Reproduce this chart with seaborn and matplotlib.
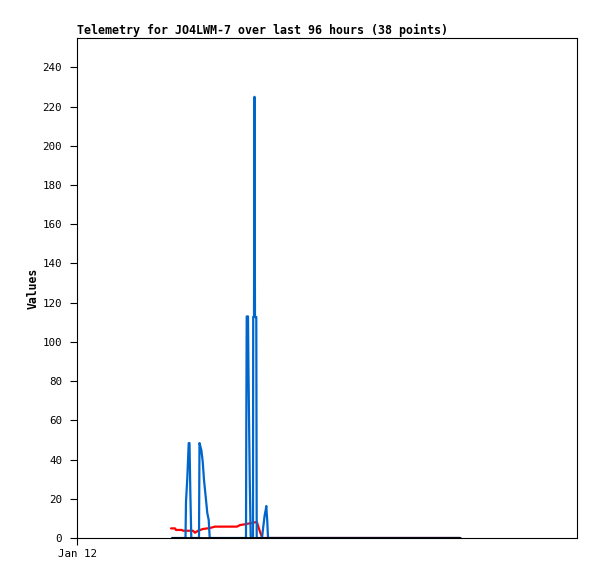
import matplotlib
matplotlib.use("Agg")
import matplotlib.pyplot as plt
import seaborn as sns
import pandas as pd

# hours since Jan 12 00:00
blue_x = [22.8, 26.04, 26.16, 26.47, 26.81, 27.0, 27.19, 27.43, 29.28, 29.4, 29.83, 30.17,
          30.48, 30.89, 31.27, 31.61, 31.85, 40.56, 40.63, 40.73, 41.04, 41.16, 41.47, 41.69,
          42.24, 42.29, 42.48, 42.6, 42.72, 43.03, 43.13,
          44.4, 44.71, 45.05, 45.29, 45.43, 45.67, 45.84, 91.92]
blue_y = [0, 0, 18.5, 30.5, 48.4, 48.4, 24.5, 0, 0, 48.4, 45, 39,
          29.6, 21, 12.7, 9.2, 0, 0, 56.9, 113, 113, 84, 28, 0,
          0, 112.7, 112.7, 225, 112.7, 112.7, 0,
          0, 5.8, 11.7, 14.3, 16.3, 8.3, 0, 0]

red_x = [22.56, 23.52, 23.76, 25.2, 25.44, 27.84, 28.32, 29.04, 30.24, 31.92, 33.12, 38.4,
         39.12, 40.32, 42.72, 43.2, 43.51, 43.92, 44.33, 44.52, 91.92]
red_y = [4.9, 4.9, 4.1, 4.1, 3.7, 3.7, 2.7, 3.7, 4.6, 5.1, 5.8, 5.8,
         6.6, 7.0, 8.0, 8.0, 5.8, 3.2, 0.8, 0, 0]

black_x = [22.8, 45.0, 70.0, 91.92]
black_y = [0, 0, 0, 0]

x_max = 120
y_max = 255
y_ticks = list(range(0, 241, 20))
x_tick_labels = ["Jan 12"]

sns.set_style("white")
mono = ["DejaVu Sans Mono"]
plt.rcParams["font.family"] = mono

fig = plt.figure(figsize=(5.97, 5.79), dpi=100)
ax = fig.add_axes([77/597, 41/579, 500/597, 500/579])

sns.lineplot(x=red_x, y=red_y, color="#ff0000", lw=1.6, estimator=None, sort=False, ax=ax)
sns.lineplot(x=blue_x, y=blue_y, color="#0066cc", lw=1.6, estimator=None, sort=False, ax=ax)
sns.lineplot(x=black_x, y=black_y, color="#000000", lw=2.0, estimator=None, sort=False, ax=ax)

ax.set_xlim(0, x_max)
ax.set_ylim(0, y_max)
ax.set_yticks(y_ticks)
ax.set_yticklabels([str(t) for t in y_ticks], fontsize=7.8, color="black")
ax.set_xticks([0])
ax.set_xticklabels(x_tick_labels, fontsize=7.8, color="black")
ax.tick_params(axis="both", direction="out", length=5.2, width=0.8, color="black",
               left=True, bottom=True)
ax.tick_params(axis="y", pad=5.5)
ax.tick_params(axis="x", pad=2.5)
for s in ax.spines.values():
    s.set_color("black")
    s.set_linewidth(0.8)
ax.set_xlabel("")
ax.set_ylabel("Values", fontsize=8.3, fontweight="bold", labelpad=2, color="black")
ax.set_title("Telemetry for JO4LWM-7 over last 96 hours (38 points)", loc="left",
             fontsize=8.35, fontweight="bold", pad=3, color="black")

fig.savefig("out.png", dpi=100)
